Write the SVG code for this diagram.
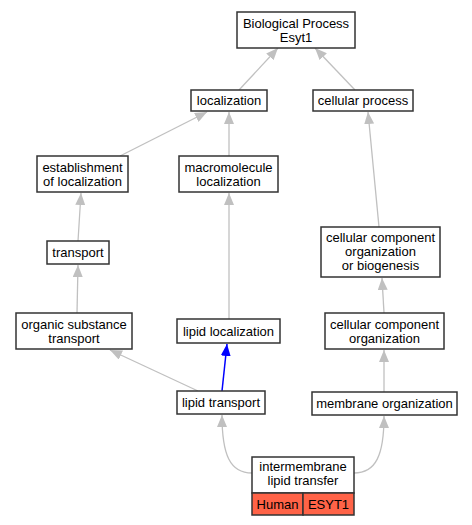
<svg xmlns="http://www.w3.org/2000/svg" width="472" height="525" viewBox="0 0 472 525">
<style>
.n rect{fill:#fff;stroke:#333;stroke-width:1.5}
.n text,text{font-family:"Liberation Sans",Arial,sans-serif;font-size:13px;text-anchor:middle;fill:#000}
.e{fill:none;stroke:#c0c0c0;stroke-width:1.3}
.b{fill:none;stroke:#0000ff;stroke-width:1.5}
.o rect{fill:#ff6347}
</style>
<defs>
<marker id="ag" viewBox="0 0 12 10" refX="12" refY="5" markerWidth="12" markerHeight="10" markerUnits="userSpaceOnUse" orient="auto"><path d="M0,0 L12,5 L0,10 z" fill="#c0c0c0"/></marker>
<marker id="ab" viewBox="0 0 12 10" refX="12" refY="5" markerWidth="12" markerHeight="10" markerUnits="userSpaceOnUse" orient="auto"><path d="M0,0 L12,5 L0,10 z" fill="#0000ff"/></marker>
</defs>
<rect width="472" height="525" fill="#fff"/>
<g id="edges">
<path class="e" d="M239,90 L278,48" marker-end="url(#ag)"/>
<path class="e" d="M355,90 L315,48" marker-end="url(#ag)"/>
<path class="e" d="M120,156 L207,112" marker-end="url(#ag)"/>
<path class="e" d="M229,156 L229,112" marker-end="url(#ag)"/>
<path class="e" d="M78,241 L81,193" marker-end="url(#ag)"/>
<path class="e" d="M379,227 L368,112" marker-end="url(#ag)"/>
<path class="e" d="M77,313 L78,265" marker-end="url(#ag)"/>
<path class="e" d="M229,319 L229,193" marker-end="url(#ag)"/>
<path class="e" d="M198,391 L110,350" marker-end="url(#ag)"/>
<path class="b" d="M222,391 L227,344" marker-end="url(#ab)"/>
<path class="e" d="M384,392 L384,350" marker-end="url(#ag)"/>
<path class="e" d="M384,313 L382,278" marker-end="url(#ag)"/>
<path class="e" d="M252,473 C230,473 222,455 222,415" marker-end="url(#ag)"/>
<path class="e" d="M354,473 C376,473 384,455 384,416" marker-end="url(#ag)"/>
</g>
<g id="n1" class="n"><rect x="237" y="12" width="118" height="36"/><text x="296" y="27.5">Biological Process</text><text x="296" y="41.5">Esyt1</text></g>
<g id="n2" class="n"><rect x="191" y="90" width="76" height="21"/><text x="229" y="105">localization</text></g>
<g id="n3" class="n"><rect x="313" y="90" width="100" height="21"/><text x="363" y="105">cellular process</text></g>
<g id="n4" class="n"><rect x="37" y="156" width="91" height="36"/><text x="82.5" y="171.5">establishment</text><text x="82.5" y="185.5">of localization</text></g>
<g id="n5" class="n"><rect x="179" y="156" width="99" height="36"/><text x="228.5" y="171.5">macromolecule</text><text x="228.5" y="185.5">localization</text></g>
<g id="n6" class="n"><rect x="47" y="241" width="62" height="23"/><text x="78" y="257">transport</text></g>
<g id="n7" class="n"><rect x="321" y="227" width="119" height="50"/><text x="380.5" y="241.5">cellular component</text><text x="380.5" y="255.5">organization</text><text x="380.5" y="269.5">or biogenesis</text></g>
<g id="n8" class="n"><rect x="16" y="313" width="116" height="36"/><text x="74" y="328.5">organic substance</text><text x="74" y="342.5">transport</text></g>
<g id="n9" class="n"><rect x="177" y="319" width="103" height="24"/><text x="228.5" y="335.5">lipid localization</text></g>
<g id="n10" class="n"><rect x="177" y="391" width="88" height="23"/><text x="221" y="407">lipid transport</text></g>
<g id="n11" class="n"><rect x="325" y="313" width="119" height="36"/><text x="384.5" y="328.5">cellular component</text><text x="384.5" y="342.5">organization</text></g>
<g id="n12" class="n"><rect x="312" y="392" width="145" height="23"/><text x="384.5" y="408">membrane organization</text></g>
<g id="n13" class="n"><rect x="252" y="457" width="102" height="36"/><text x="303" y="471">intermembrane</text><text x="303" y="485">lipid transfer</text>
<g class="o"><rect x="252" y="493" width="51" height="22"/><rect x="303" y="493" width="51" height="22"/></g>
<text x="277.5" y="508.5">Human</text><text x="328.5" y="508.5">ESYT1</text></g>
</svg>
